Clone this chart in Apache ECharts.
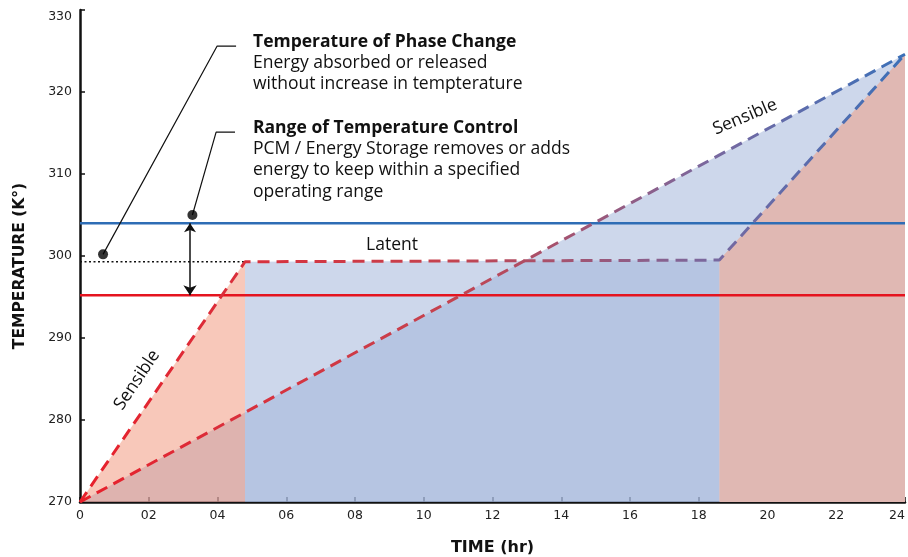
<!DOCTYPE html>
<html><head><meta charset="utf-8">
<script src="https://cdn.jsdelivr.net/npm/echarts@6/dist/echarts.min.js"></script>
<style>html,body{margin:0;padding:0;background:#fff}#c{width:908px;height:557px}</style>
</head><body><div id="c"></div>
<script>
// ---- data ----
const xTickLabels = ['0','02','04','06','08','10','12','14','16','18','20','22','24'];
const yTickLabels = ['270','280','290','300','310','320','330'];
const phaseLine = [[0,270],[4.8,299.3],[18.6,299.5],[24,324.6]];   // PCM: sensible -> latent -> sensible
const directLine = [[0,270],[24,324.6]];                           // no PCM: sensible only
const upperLimit = 304.0;
const lowerLimit = 295.2;
const phaseTemp = 299.3;
const rangeArrowX = 3.2;
const callout1 = [[0.67,300.2],[3.99,325.6],[4.54,325.6]];
const callout2 = [[3.27,305.0],[3.96,315.1],[4.51,315.1]];

const seg1 = phaseLine.slice(0,2), seg2 = phaseLine.slice(1,3), seg3 = phaseLine.slice(2,4);

function mkGrad(){
  return new echarts.graphic.LinearGradient(0,0,1,0,[
    {offset:0,color:'#e81f2a'},{offset:0.2,color:'#d9303c'},{offset:0.45,color:'#c4434f'},
    {offset:0.62,color:'#9c5778'},{offset:0.76,color:'#7a689e'},{offset:0.88,color:'#5a6cad'},
    {offset:1,color:'#3a70b8'}]);
}

function area(data, color, z){
  return {type:'line', data, symbol:'none', silent:true, z,
    lineStyle:{width:0}, areaStyle:{color, origin:'start', opacity:1}};
}
const blueA = 'rgba(162,181,218,0.54)';
const FONT = '"Open Sans", sans-serif';
const FS = '17.5px ';
const chart = echarts.init(document.getElementById('c'), null, {renderer:'canvas'});
chart.setOption({
  animation:false,
  grid:{left:80,right:3,top:10,bottom:55,containLabel:false,outerBoundsMode:'none'},
  xAxis:{type:'value',min:0,max:24,interval:2,
    name:'TIME (hr)',nameLocation:'middle',nameGap:38,
    nameTextStyle:{fontFamily:'DejaVu Sans',fontWeight:'bold',fontSize:16,color:'#111'},
    axisLine:{show:true,lineStyle:{color:'#111',width:2.5}},
    axisTick:{show:true,inside:true,length:5,lineStyle:{color:'#111',width:1.5}},
    axisLabel:{fontFamily:'DejaVu Sans',fontSize:12.5,color:'#222',margin:7,alignMaxLabel:'right',
      formatter:v=>xTickLabels[Math.round(v/2)]},
    splitLine:{show:false}},
  yAxis:{type:'value',min:270,max:330,interval:10,
    axisLine:{show:true,lineStyle:{color:'#111',width:2.5}},
    axisTick:{show:true,inside:true,length:5,lineStyle:{color:'#111',width:1.5}},
    axisLabel:{fontFamily:'DejaVu Sans',fontSize:12.5,color:'#222',margin:8,
      formatter:v=>{const s=yTickLabels[Math.round((v-270)/10)];return v===330?'{t|'+s+'}':s;},
      rich:{t:{fontFamily:'DejaVu Sans',fontSize:12.5,color:'#222',padding:[14,0,0,0]}}},
    splitLine:{show:false}},
  series:[
    area(directLine, blueA, 1),
    area(seg1, 'rgba(240,140,110,0.48)', 2),
    area(seg2, blueA, 2),
    area(seg3, 'rgb(224,184,179)', 2),
    {type:'line',data:[[0,upperLimit],[24,upperLimit]],symbol:'none',silent:true,z:4,
      lineStyle:{color:'#2e6db5',width:2.5}},
    {type:'line',data:[[0,lowerLimit],[24,lowerLimit]],symbol:'none',silent:true,z:4,
      lineStyle:{color:'#e5141f',width:2.5}},
    {type:'line',data:[[0,phaseTemp],[seg1[1][0],phaseTemp]],symbol:'none',silent:true,z:4,
      lineStyle:{color:'#111',width:1.5,type:[2,2.5]}},
    {type:'line',data:directLine,symbol:'none',silent:true,z:5,
      lineStyle:{color:mkGrad(),width:3,type:[12,7]}},
    {type:'line',data:phaseLine,symbol:'none',silent:true,z:5,
      lineStyle:{color:mkGrad(),width:3,type:[12,7]}},
    {type:'lines',coordinateSystem:'cartesian2d',polyline:false,silent:true,z:6,
      symbol:['arrow','arrow'],symbolSize:[9,10],
      lineStyle:{color:'#111',width:1.5,opacity:1},
      data:[{coords:[[rangeArrowX,upperLimit],[rangeArrowX,lowerLimit]]}]},
    {type:'line',data:callout1,symbol:'none',silent:true,z:6,lineStyle:{color:'#111',width:1.2}},
    {type:'line',data:callout2,symbol:'none',silent:true,z:6,lineStyle:{color:'#111',width:1.2}},
    {type:'scatter',data:[callout1[0],callout2[0]],symbolSize:10,silent:true,z:7,
      itemStyle:{color:'#000'}}
  ],
  graphic:[
    {type:'text',x:20,y:266,rotation:Math.PI/2,style:{text:'TEMPERATURE (K°)',font:'bold 15.5px "DejaVu Sans"',fill:'#111',align:'center',verticalAlign:'middle'}},
    {type:'text',x:253,y:42,style:{text:'Temperature of Phase Change',font:'bold '+FS+FONT,fill:'#111',verticalAlign:'middle'}},
    {type:'text',x:253,y:63,style:{text:'Energy absorbed or released',font:FS+FONT,fill:'#111',verticalAlign:'middle'}},
    {type:'text',x:253,y:84,style:{text:'without increase in tempterature',font:FS+FONT,fill:'#111',verticalAlign:'middle'}},
    {type:'text',x:253,y:128,style:{text:'Range of Temperature Control',font:'bold '+FS+FONT,fill:'#111',verticalAlign:'middle'}},
    {type:'text',x:253,y:149,style:{text:'PCM / Energy Storage removes or adds',font:FS+FONT,fill:'#111',verticalAlign:'middle'}},
    {type:'text',x:253,y:170.5,style:{text:'energy to keep within a specified',font:FS+FONT,fill:'#111',verticalAlign:'middle'}},
    {type:'text',x:253,y:192,style:{text:'operating range',font:FS+FONT,fill:'#111',verticalAlign:'middle'}},
    {type:'text',x:392,y:245,style:{text:'Latent',font:FS+FONT,fill:'#111',align:'center',verticalAlign:'middle'}},
    {type:'text',x:137,y:380,rotation:0.98,style:{text:'Sensible',font:FS+FONT,fill:'#111',align:'center',verticalAlign:'middle'}},
    {type:'text',x:745,y:117,rotation:0.40,style:{text:'Sensible',font:FS+FONT,fill:'#111',align:'center',verticalAlign:'middle'}}
  ]
});
</script></body></html>
